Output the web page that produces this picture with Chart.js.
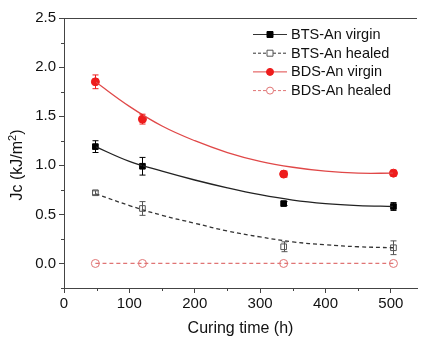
<!DOCTYPE html>
<html>
<head>
<meta charset="utf-8">
<script src="https://cdn.jsdelivr.net/npm/chart.js@4.4.1/dist/chart.umd.min.js"></script>
<style>
  body { margin: 0; background: #fff; }
  #wrap { width: 422px; height: 338px; }
</style>
</head>
<body>
<div id="wrap"><canvas id="jcChart" width="422" height="338"></canvas></div>
<script>
// Data
const timeH = [48, 120, 336, 504];
const btsVirgin = [1.19, 0.99, 0.61, 0.58];
const btsVirginErr = [0.06, 0.09, 0.02, 0.04];
const btsHealed = [0.72, 0.56, 0.17, 0.16];
const btsHealedErr = [0.02, 0.07, 0.05, 0.07];
const bdsVirgin = [1.85, 1.47, 0.91, 0.92];
const bdsVirginErr = [0.07, 0.05, 0.03, 0.03];
const bdsHealed = [0, 0, 0, 0];
const bdsHealedErr = [0, 0, 0, 0];

// Fitted trend lines
const fitX = [48, 100, 150, 200, 250, 300, 350, 400, 450, 504];
const bdsVirginFit = [1.85, 1.60, 1.40, 1.25, 1.13, 1.04, 0.98, 0.94, 0.92, 0.92];
const btsVirginFit = [1.19, 1.04, 0.94, 0.85, 0.77, 0.70, 0.645, 0.61, 0.59, 0.58];
const btsHealedFit = [0.71, 0.59, 0.49, 0.41, 0.33, 0.27, 0.22, 0.19, 0.17, 0.16];
const bdsHealedFit = [0, 0, 0, 0, 0, 0, 0, 0, 0, 0];

const xTicks = [0, 100, 200, 300, 400, 500];
const yTicks = [0.0, 0.5, 1.0, 1.5, 2.0, 2.5];

const RED = '#ee1c1c';
const PINK = '#e07474';
const FONT_FAMILY = '"Liberation Sans", Arial, sans-serif';

const toXY = (xs, ys) => xs.map((x, i) => ({ x: x, y: ys[i] }));

function fitLine(ys, color, dash) {
    return {
        type: 'line',
        data: toXY(fitX, ys),
        borderColor: color,
        borderWidth: 1.3,
        borderDash: dash,
        pointRadius: 0,
        tension: 0.4,
        fill: false
    };
}

function points(label, ys, err, style, fillColor, borderColor, lineColor, dash) {
    return {
        type: 'scatter',
        label: label,
        data: toXY(timeH, ys),
        errors: err,
        pointStyle: style,
        pointRadius: 4,
        backgroundColor: fillColor,
        borderColor: borderColor,
        borderWidth: 1,
        lineColor: lineColor,
        lineDash: dash
    };
}

const datasets = [
    fitLine(btsVirginFit, '#222', []),
    fitLine(btsHealedFit, '#333', [4, 3]),
    fitLine(bdsVirginFit, '#e04848', []),
    fitLine(bdsHealedFit, PINK, [4, 3]),
    points('BTS-An virgin', btsVirgin, btsVirginErr, 'rect', '#000', '#000', '#333', []),
    points('BTS-An healed', btsHealed, btsHealedErr, 'rect', '#fff', '#555', '#333', [3, 2]),
    points('BDS-An virgin', bdsVirgin, bdsVirginErr, 'circle', RED, RED, '#e04848', []),
    points('BDS-An healed', bdsHealed, bdsHealedErr, 'circle', '#fff', PINK, PINK, [3, 2])
];

// error bars, minor ticks, top frame, y title and legend
const extras = {
    id: 'extras',
    afterDatasetsDraw(chart) {
        const ctx = chart.ctx;
        const xs = chart.scales.x, ys = chart.scales.y;
        ctx.save();
        chart.data.datasets.forEach(ds => {
            if (!ds.errors) return;
            ctx.strokeStyle = ds.borderColor === '#fff' ? '#444' : ds.borderColor;
            ctx.lineWidth = 1;
            ds.data.forEach((p, i) => {
                const e = ds.errors[i];
                if (!e) return;
                const px = Math.round(xs.getPixelForValue(p.x)) + 0.5;
                const top = ys.getPixelForValue(p.y + e);
                const bot = ys.getPixelForValue(p.y - e);
                ctx.beginPath();
                ctx.moveTo(px, top); ctx.lineTo(px, bot);
                ctx.moveTo(px - 3, top); ctx.lineTo(px + 3, top);
                ctx.moveTo(px - 3, bot); ctx.lineTo(px + 3, bot);
                ctx.stroke();
            });
        });
        ctx.restore();
    },
    afterDraw(chart) {
        const ctx = chart.ctx;
        const xs = chart.scales.x, ys = chart.scales.y;
        const area = chart.chartArea;
        ctx.save();
        ctx.strokeStyle = '#444';
        ctx.lineWidth = 1;
        // top frame
        ctx.beginPath();
        ctx.moveTo(area.left, area.top + 0.5);
        ctx.lineTo(area.right, area.top + 0.5);
        ctx.stroke();
        // minor ticks
        ctx.beginPath();
        for (let v = -0.25; v < 2.5; v += 0.5) {
            const py = Math.round(ys.getPixelForValue(v)) + 0.5;
            ctx.moveTo(area.left - 3, py); ctx.lineTo(area.left, py);
        }
        for (let v = 50; v < 540; v += 100) {
            const px = Math.round(xs.getPixelForValue(v)) + 0.5;
            ctx.moveTo(px, area.bottom); ctx.lineTo(px, area.bottom + 3);
        }
        ctx.stroke();

        // y axis title with superscript
        ctx.save();
        ctx.translate(18, 165);
        ctx.rotate(-Math.PI / 2);
        ctx.fillStyle = '#111';
        ctx.textBaseline = 'middle';
        const main = 'Jc (kJ/m', sup = '2', tail = ')';
        ctx.font = '16px ' + FONT_FAMILY;
        const wMain = ctx.measureText(main).width;
        const wTail = ctx.measureText(tail).width;
        ctx.font = '11px ' + FONT_FAMILY;
        const wSup = ctx.measureText(sup).width;
        let sx = -(wMain + wSup + wTail) / 2;
        ctx.font = '16px ' + FONT_FAMILY;
        ctx.fillText(main, sx, 0);
        ctx.font = '11px ' + FONT_FAMILY;
        ctx.fillText(sup, sx + wMain, -5);
        ctx.font = '16px ' + FONT_FAMILY;
        ctx.fillText(tail, sx + wMain + wSup, 0);
        ctx.restore();

        // legend
        const rows = chart.data.datasets.filter(d => d.label);
        const x0 = 253, x1 = 287, mx = 270, tx = 291;
        let y = 34;
        ctx.font = '14.5px ' + FONT_FAMILY;
        ctx.textBaseline = 'middle';
        rows.forEach(ds => {
            ctx.strokeStyle = ds.lineColor;
            ctx.lineWidth = 1;
            ctx.setLineDash(ds.lineDash);
            ctx.beginPath();
            ctx.moveTo(x0, y + 0.5); ctx.lineTo(x1, y + 0.5);
            ctx.stroke();
            ctx.setLineDash([]);
            ctx.fillStyle = ds.backgroundColor;
            ctx.strokeStyle = ds.borderColor;
            ctx.beginPath();
            if (ds.pointStyle === 'rect') {
                ctx.rect(mx - 3, y - 2.5, 6, 6);
            } else {
                ctx.arc(mx, y + 0.5, 3.5, 0, Math.PI * 2);
            }
            ctx.fill();
            ctx.stroke();
            ctx.fillStyle = '#111';
            ctx.fillText(ds.label, tx, y + 1);
            y += 18.7;
        });
        ctx.restore();
    }
};

const FONT = { family: FONT_FAMILY, size: 15 };

new Chart(document.getElementById('jcChart').getContext('2d'), {
    type: 'scatter',
    data: { datasets: datasets },
    plugins: [extras],
    options: {
        responsive: false,
        animation: false,
        layout: { padding: { top: 18, right: 0, left: 0, bottom: 0 } },
        plugins: { legend: { display: false }, tooltip: { enabled: false } },
        scales: {
            x: {
                type: 'linear',
                min: 0,
                max: 540,
                afterBuildTicks: s => { s.ticks = xTicks.map(v => ({ value: v })); },
                afterFit: s => { s.height = 50; },
                ticks: { color: '#111', font: FONT, padding: 2, maxRotation: 0 },
                grid: { drawOnChartArea: false, tickLength: 5, color: '#444' },
                border: { color: '#444', width: 1 },
                title: {
                    display: true,
                    text: 'Curing time (h)',
                    color: '#111',
                    font: { family: FONT_FAMILY, size: 16 },
                    padding: { top: 8, bottom: 0 }
                }
            },
            y: {
                type: 'linear',
                min: -0.25,
                max: 2.5,
                afterBuildTicks: s => { s.ticks = yTicks.map(v => ({ value: v })); },
                afterFit: s => { s.width = 64; },
                ticks: { color: '#111', font: FONT, padding: 3, callback: v => v.toFixed(1) },
                grid: { drawOnChartArea: false, tickLength: 5, color: '#444' },
                border: { color: '#444', width: 1 }
            }
        }
    }
});
</script>
</body>
</html>
